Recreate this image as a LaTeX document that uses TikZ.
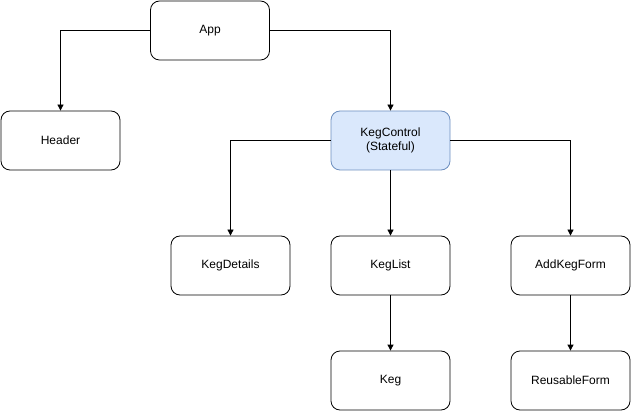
\documentclass[tikz,border=0pt]{standalone}
\usepackage{fontspec}
\setmainfont{Liberation Sans}
\usetikzlibrary{arrows.meta}
\definecolor{bluefill}{HTML}{DAE8FC}
\definecolor{bluestroke}{HTML}{6C8EBF}
\begin{document}
\begin{tikzpicture}[x=1pt,y=-1pt,
  box/.style={draw=black,fill=white,rounded corners=9pt,minimum width=119pt,minimum height=59pt,inner sep=0pt,align=center,font=\fontsize{12}{14}\selectfont,line width=0.8pt},
  conn/.style={-{Triangle[length=6pt,width=6pt]},line width=0.8pt}]
\useasboundingbox (0,0) rectangle (631,411);
\node[box] (app) at (210,30.5) {App};
\node[box] (header) at (60.5,140.5) {Header};
\node[box,fill=bluefill,draw=bluestroke] (kc) at (390.5,140.5) {KegControl\\(Stateful)};
\node[box] (kd) at (230.5,265.5) {KegDetails};
\node[box] (kl) at (390.5,265.5) {KegList};
\node[box] (akf) at (570.5,265.5) {AddKegForm};
\node[box] (keg) at (390.5,380.5) {Keg};
\node[box] (rf) at (570.5,380.5) {ReusableForm};
\draw[conn] (app.west) -| (header.north);
\draw[conn] (app.east) -| (kc.north);
\draw[conn] (kc.west) -| (kd.north);
\draw[conn] (kc.south) -- (kl.north);
\draw[conn] (kc.east) -| (akf.north);
\draw[conn] (kl.south) -- (keg.north);
\draw[conn] (akf.south) -- (rf.north);
\end{tikzpicture}
\end{document}
